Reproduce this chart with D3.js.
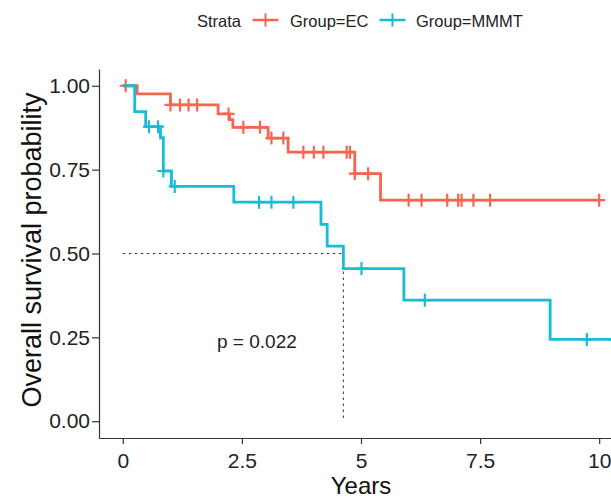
<!DOCTYPE html>
<html>
<head>
<meta charset="utf-8">
<script src="https://cdn.jsdelivr.net/npm/d3@7/dist/d3.min.js"></script>
<style>
  body { margin: 0; background: #fff; }
  svg { display: block; font-family: "Liberation Sans", Arial, sans-serif; }
</style>
</head>
<body>
<svg id="chart" width="611" height="499"></svg>
<script>
"use strict";

// Kaplan-Meier steps: time (years) where the curve drops, and the level after it
var ecTime = [0, 0.3, 1.0, 2.0, 2.24, 2.31, 3.05, 3.47, 4.87, 5.41],
    ecSurv = [1.0, 0.976, 0.943, 0.916, 0.899, 0.876, 0.844, 0.802, 0.738, 0.659],
    ecCensor = [0.06, 1.0, 1.2, 1.38, 1.56, 2.22, 2.53, 2.88, 3.12, 3.37, 3.79, 4.01, 4.21,
                4.7, 4.77, 4.87, 5.15, 6.0, 6.27, 6.81, 7.04, 7.11, 7.36, 7.71, 10.0],
    ecEnd = 10.0,

    mmTime = [0, 0.25, 0.48, 0.79, 0.85, 1.02, 2.33, 4.16, 4.29, 4.63, 5.9, 8.97],
    mmSurv = [1.0, 0.923, 0.878, 0.845, 0.746, 0.700, 0.653, 0.587, 0.522, 0.455, 0.361, 0.244],
    mmCensor = [0.55, 0.74, 0.85, 1.09, 2.86, 3.12, 3.58, 5.01, 6.34, 9.74, 10.35],
    mmEnd = 10.35,

    xTicks = [0, 2.5, 5, 7.5, 10],
    yTicks = [0, 0.25, 0.5, 0.75, 1],
    groupNames = ["Group=EC", "Group=MMMT"],
    groupColours = ["#F5654F", "#17BDD6"],
    pText = "p = 0.022";

var svg = d3.select("#chart"),
    fontFamily = "\"Liberation Sans\", Arial, sans-serif",
    axisColour = "#333333",

    x = d3.scaleLinear().domain([-0.5, 10.5]).range([99, 623]),
    y = d3.scaleLinear().domain([-0.05, 1.05]).range([438, 69]);

var survAt = function(times, survs, t) {
    var i = d3.bisectRight(times, t) - 1;
    return survs[Math.max(i, 0)];
};

var groups = [
    {name: groupNames[0], colour: groupColours[0], time: ecTime, surv: ecSurv, censor: ecCensor, end: ecEnd},
    {name: groupNames[1], colour: groupColours[1], time: mmTime, surv: mmSurv, censor: mmCensor, end: mmEnd}
];

var crossPath = "M-6,0H6M0,-6.5V6.5";

// median survival guide for the MMMT group
var mmMedianIdx = d3.range(mmSurv.length).find(function(i) { return mmSurv[i] <= 0.5; }),
    mmMedian = mmTime[mmMedianIdx];

var guides = svg.append("g")
    .attr("fill", "none")
    .attr("stroke", "#333")
    .attr("stroke-width", 1)
    .attr("stroke-dasharray", "2.5,3.5");

guides.append("line")
    .attr("x1", x(0)).attr("x2", x(mmMedian))
    .attr("y1", y(0.5)).attr("y2", y(0.5));

guides.append("line")
    .attr("x1", x(mmMedian)).attr("x2", x(mmMedian))
    .attr("y1", y(0.5)).attr("y2", y(0));

// curves
var line = d3.line()
    .x(function(d) { return x(d[0]); })
    .y(function(d) { return y(d[1]); })
    .curve(d3.curveStepAfter);

groups.forEach(function(g) {
    var pts = g.time.map(function(t, i) { return [t, g.surv[i]]; });
    pts.push([g.end, g.surv[g.surv.length - 1]]);

    var layer = svg.append("g");

    layer.append("path")
        .datum(pts)
        .attr("fill", "none")
        .attr("stroke", g.colour)
        .attr("stroke-width", 2.8)
        .attr("d", line);

    layer.selectAll("path.censor")
        .data(g.censor)
        .enter()
        .append("path")
        .classed("censor", true)
        .attr("d", crossPath)
        .attr("fill", "none")
        .attr("stroke", g.colour)
        .attr("stroke-width", 2.2)
        .attr("transform", function(t) {
            return "translate(" + x(t) + "," + y(survAt(g.time, g.surv, t)) + ")";
        });
});

// axes
var yAxis = svg.append("g")
    .attr("transform", "translate(99,0)")
    .call(d3.axisLeft(y)
          .tickValues(yTicks)
          .tickFormat(d3.format(".2f"))
          .tickSize(7)
          .tickSizeOuter(0)
          .tickPadding(2));

var xAxis = svg.append("g")
    .attr("transform", "translate(0,438)")
    .call(d3.axisBottom(x)
          .tickValues(xTicks)
          .tickFormat(function(d) { return String(d); })
          .tickSize(6)
          .tickSizeOuter(0)
          .tickPadding(9));

[yAxis, xAxis].forEach(function(ax) {
    ax.select(".domain").attr("stroke", axisColour).attr("stroke-width", 1.2);
    ax.selectAll(".tick line").attr("stroke", axisColour).attr("stroke-width", 1.2);
    ax.selectAll(".tick text")
        .attr("fill", "#222")
        .style("font-family", fontFamily)
        .style("font-size", "21px");
});

// titles
svg.append("text")
    .attr("transform", "translate(41,250) rotate(-90)")
    .attr("text-anchor", "middle")
    .attr("fill", "#111")
    .style("font-size", "27px")
    .text("Overall survival probability");

svg.append("text")
    .attr("x", 361)
    .attr("y", 494)
    .attr("text-anchor", "middle")
    .attr("fill", "#111")
    .style("font-size", "24px")
    .text("Years");

svg.append("text")
    .attr("x", 217)
    .attr("y", 348)
    .attr("fill", "#222")
    .style("font-size", "19px")
    .text(pText);

// legend
var legend = svg.append("g").style("font-size", "16.5px");

legend.append("text")
    .attr("x", 197)
    .attr("y", 27)
    .attr("fill", "#222")
    .text("Strata");

var keyX = [265.5, 392.5],
    labelX = [290, 416];

groups.forEach(function(g, i) {
    legend.append("line")
        .attr("x1", keyX[i] - 13).attr("x2", keyX[i] + 13)
        .attr("y1", 20).attr("y2", 20)
        .attr("stroke", g.colour)
        .attr("stroke-width", 2.5);

    legend.append("path")
        .attr("d", crossPath)
        .attr("transform", "translate(" + keyX[i] + ",20)")
        .attr("fill", "none")
        .attr("stroke", g.colour)
        .attr("stroke-width", 2);

    legend.append("text")
        .attr("x", labelX[i])
        .attr("y", 27)
        .attr("fill", "#222")
        .text(g.name);
});
</script>
</body>
</html>
